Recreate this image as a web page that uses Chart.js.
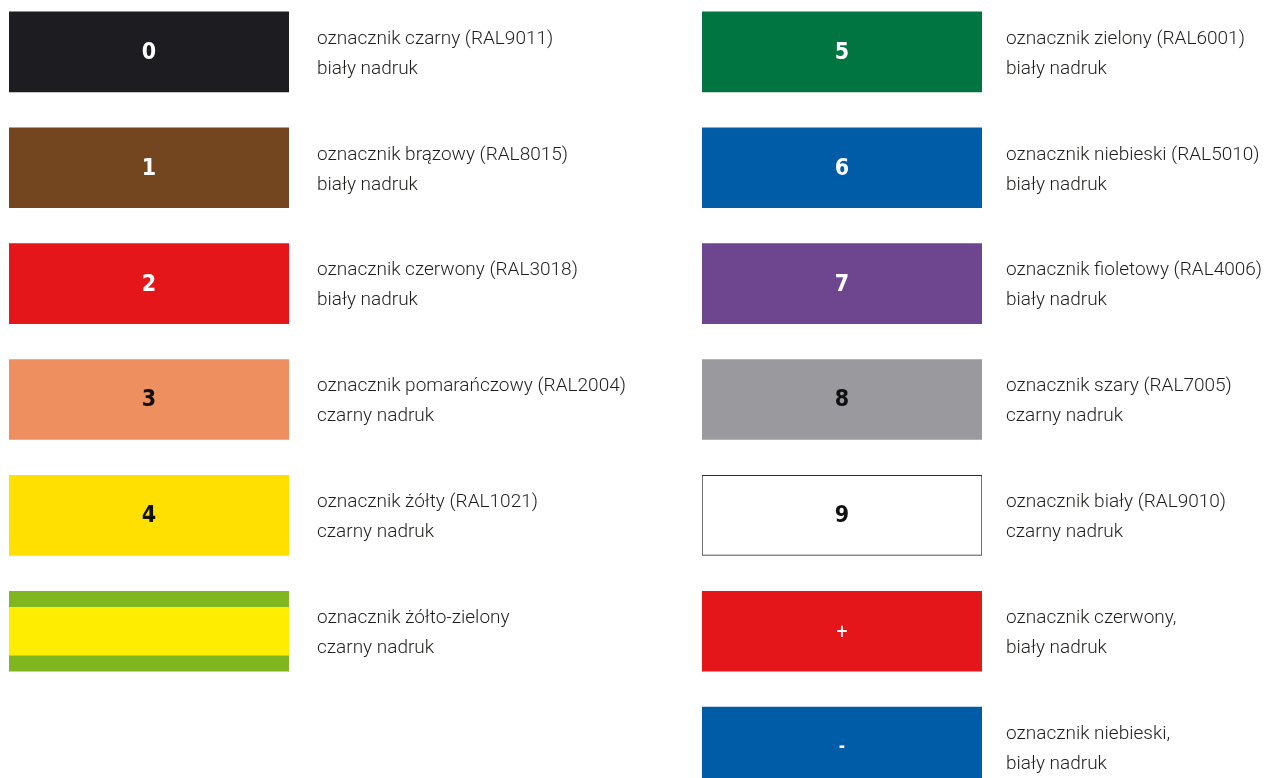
<!DOCTYPE html>
<html lang="pl">
<head>
<meta charset="utf-8">
<title>Oznaczniki kolorowe</title>
<script src="https://cdn.jsdelivr.net/npm/chart.js@4"></script>
<style>
    html, body { margin: 0; padding: 0; background: #fff; overflow: hidden; }
    body { width: 1271px; height: 778px; position: relative; }
    .col { position: absolute; top: -6px; height: 811px; }
    #colLeft { left: 9px; width: 680px; }
    #colRight { left: 702px; width: 569px; }
</style>
</head>
<body>
<div class="col" id="colLeft"><canvas id="chartLeft"></canvas></div>
<div class="col" id="colRight"><canvas id="chartRight"></canvas></div>

<script>
// =======================
// Dane - lewa kolumna
// =======================
const leftCodes = ["0", "1", "2", "3", "4", ""];
const leftNames = [
    ["oznacznik czarny (RAL9011)", "biały nadruk"],
    ["oznacznik brązowy (RAL8015)", "biały nadruk"],
    ["oznacznik czerwony (RAL3018)", "biały nadruk"],
    ["oznacznik pomarańczowy (RAL2004)", "czarny nadruk"],
    ["oznacznik żółty (RAL1021)", "czarny nadruk"],
    ["oznacznik żółto-zielony", "czarny nadruk"]
];
const leftValues = [1, 1, 1, 1, 1, 1];
const leftStripe = [null, null, null, null, null, 1]; // żółty pas na żółto-zielonym
const leftColors = ["#1d1d21", "#734620", "#e5161a", "#ee8f5f", "#ffe000", "#80b620"];
const leftTextColors = ["#fff", "#fff", "#fff", "#111", "#111", "#111"];

// =======================
// Dane - prawa kolumna
// =======================
const rightCodes = ["5", "6", "7", "8", "9", "+", "-"];
const rightNames = [
    ["oznacznik zielony (RAL6001)", "biały nadruk"],
    ["oznacznik niebieski (RAL5010)", "biały nadruk"],
    ["oznacznik fioletowy (RAL4006)", "biały nadruk"],
    ["oznacznik szary (RAL7005)", "czarny nadruk"],
    ["oznacznik biały (RAL9010)", "czarny nadruk"],
    ["oznacznik czerwony,", "biały nadruk"],
    ["oznacznik niebieski,", "biały nadruk"]
];
const rightValues = [1, 1, 1, 1, 1, 1, 1];
const rightColors = ["#007441", "#005ca7", "#6e468f", "#9a999e", "#ffffff", "#e5161a", "#005ca7"];
const rightTextColors = ["#fff", "#fff", "#fff", "#111", "#111", "#fff", "#fff"];

const ROWS = 7;
const descFont = { family: "Roboto, 'Open Sans', sans-serif", size: 19, weight: 300, lineHeight: "30px" };
const codeFamily = "'DejaVu Sans Condensed', 'Liberation Sans Narrow', 'DejaVu Sans', sans-serif";

// napisy (cyfry) w środku prostokątów
const codePlugin = {
    id: "codes",
    afterDatasetsDraw(chart, args, opts) {
        const ctx = chart.ctx;
        const meta = chart.getDatasetMeta(0);
        ctx.save();
        ctx.textAlign = "center";
        ctx.textBaseline = "middle";
        meta.data.forEach((bar, i) => {
            const code = opts.codes[i];
            if (!code) return;
            // znaki +/- są w oryginale wyraźnie mniejsze
            ctx.font = /\d/.test(code) ? "bold 23px " + codeFamily : "bold 17px " + codeFamily;
            ctx.fillStyle = opts.colors[i];
            ctx.fillText(code, (bar.x + bar.base) / 2, bar.y + 1);
        });
        ctx.restore();
    }
};

function padRows(arr, fill) {
    const out = arr.slice();
    while (out.length < ROWS) out.push(fill);
    return out;
}

function makeChart(id, codes, names, values, colors, textColors, stripe, axisWidth, pad) {
    const datasets = [{
        data: padRows(values, null),
        backgroundColor: colors,
        borderColor: colors.map(c => c === "#ffffff" ? "#2b2b2b" : c),
        borderWidth: colors.map(c => c === "#ffffff" ? 1 : 0),
        borderSkipped: false,
        barThickness: 80,
        grouped: false,
        order: 1
    }];
    if (stripe) {
        datasets.push({
            data: padRows(stripe, null),
            backgroundColor: "#ffed00",
            borderWidth: 0,
            barThickness: 48,
            grouped: false,
            order: 0
        });
    }
    return new Chart(document.getElementById(id), {
        type: "bar",
        data: { labels: padRows(names, ""), datasets },
        options: {
            indexAxis: "y",
            responsive: true,
            maintainAspectRatio: false,
            animation: false,
            layout: { padding: 0 },
            plugins: {
                legend: { display: false },
                tooltip: { enabled: false },
                codes: { codes, colors: textColors }
            },
            scales: {
                x: { display: false, min: 0, max: 1 },
                y: {
                    position: "right",
                    grid: { display: false, drawTicks: false },
                    border: { display: false },
                    ticks: { padding: pad, labelOffset: 2, color: "#1d1d1b", font: descFont, autoSkip: false },
                    afterFit(s) {
                        // stała szerokość osi i bez dodatkowego marginesu na etykiety
                        s.width = axisWidth;
                        s.paddingTop = 0;
                        s.paddingBottom = 0;
                    }
                }
            }
        },
        plugins: [codePlugin]
    });
}

makeChart("chartLeft", leftCodes, leftNames, leftValues, leftColors, leftTextColors, leftStripe, 400, 28);
makeChart("chartRight", rightCodes, rightNames, rightValues, rightColors, rightTextColors, null, 289, 24);
</script>
</body>
</html>
